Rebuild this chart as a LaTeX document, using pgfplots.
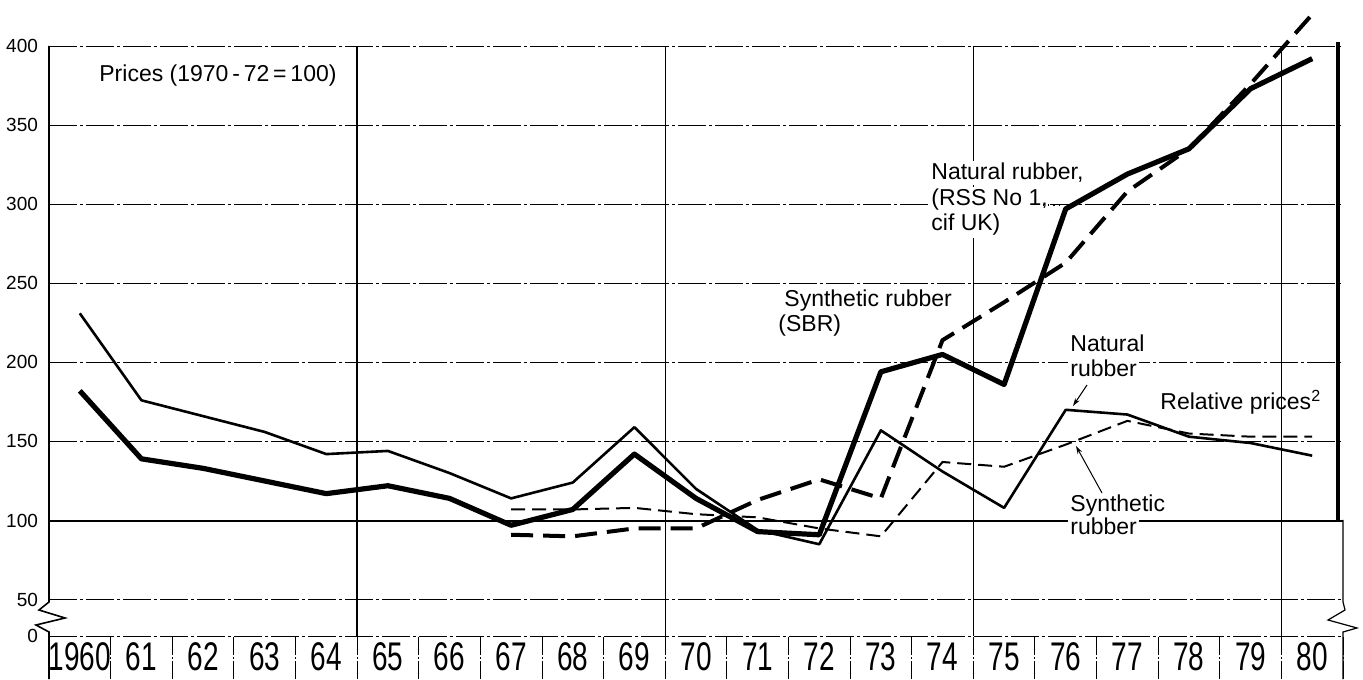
\documentclass[border=0pt]{standalone}
\usepackage{fontspec}
\setmainfont{Liberation Sans}
\usepackage{graphicx}
\usepackage{pgfplots}
\usepackage{pgfplotstable}
\pgfplotsset{compat=1.18}
\usetikzlibrary{arrows.meta}

\pgfplotstableread{
x nr rnr
0 182 231
1 139 176
2 133 166
3 125 156
4 117 142
5 122 144
6 114 130
7 97 114
8 107 124
9 142 159
10 114 120
11 93 94
12 91 85
13 194 157
14 205 131
15 186 108
16 297 170
17 319 167
18 335 153
19 373 149
20 392 141
}\tabA

\pgfplotstableread{
x sbr rsr
7 91 107
8 90 107
9 95 108
10 95 104
11 113 102
12 126 95
13 114 90
14 214 137
15 238 134
16 263 148
17 308 163
18 335 155
19 376 153
20 420 153
}\tabB

\newcommand{\yl}[1]{\scalebox{0.7}[1]{#1}}

\begin{document}
\begin{tikzpicture}
\begin{axis}[
  at={(0,0)}, anchor=south west,
  scale only axis, width=647pt, height=295pt,
  xmin=-0.5, xmax=20.5, ymin=27, ymax=400,
  clip=false,
  axis line style={draw=none},
  xtick={0,...,20},
  xticklabels={\yl{1960},\yl{61},\yl{62},\yl{63},\yl{64},\yl{65},\yl{66},\yl{67},\yl{68},\yl{69},\yl{70},\yl{71},\yl{72},\yl{73},\yl{74},\yl{75},\yl{76},\yl{77},\yl{78},\yl{79},\yl{80}},
  minor xtick={-0.5,0.5,...,20.5},
  ytick={27,50,100,150,200,250,300,350,400},
  yticklabels={0,50,100,150,200,250,300,350,400},
  major tick length=0pt,
  minor tick length=21.5pt,
  tick align=outside,
  xtick pos=left, ytick pos=left,
  minor x tick style={black, line width=0.45pt, dash pattern=on 9pt off 1pt on 1pt off 1pt},
  x tick label style={font=\fontsize{20}{20}\selectfont, anchor=center, yshift=-10.5pt},
  y tick label style={font=\fontsize{9.5}{11}\selectfont, xshift=-2pt},
  /pgf/number format/assume math mode=true,
  ymajorgrids,
  major grid style={black, line width=0.45pt, dash pattern=on 14pt off 1.5pt on 1.5pt off 1.5pt},
  extra x ticks={4.5,9.5,14.5,19.5},
  extra x tick labels={},
  extra x tick style={grid=major, major grid style={black, line width=0.6pt, solid}},
]
\draw[black, line width=1pt] (axis cs:-0.5,100) -- (axis cs:20.5,100);
\addplot[black, line width=2.6pt, line join=round] table[x=x,y=nr]{\tabA};
\addplot[black, line width=1.3pt, line join=round] table[x=x,y=rnr]{\tabA};
\addplot[black, line width=2pt, dash pattern=on 11pt off 5pt] table[x=x,y=sbr]{\tabB};
\addplot[black, line width=1pt, dash pattern=on 7pt off 3.5pt] table[x=x,y=rsr]{\tabB};
\end{axis}
\begin{scope}[x=1pt,y=1pt]
  % left axis with break
  \draw[black, line width=0.8pt] (0,295) -- (0,17) -- (-5,13) -- (8,9) -- (-6.5,5.5) -- (0,2) -- (0,-21.5);
  % right side
  \draw[black, line width=1.6pt] (644.5,297) -- (644.5,58);
  \draw[black, line width=0.6pt] (647,58) -- (647,17) -- (648,13) -- (639.5,8) -- (654,4) -- (647,2) -- (647,-21.5);
  % annotations
  \begin{scope}[every node/.style={anchor=base west, inner sep=1pt, fill=white, font=\fontsize{11.5}{13}\selectfont}]
    \node[fill=none] at (24,277) {Prices (1970\,-\,72\,=\,100)};
    \node at (440,228) {Natural rubber,};
    \node at (440,215) {(RSS No 1,};
    \node at (440,202.5) {cif UK)};
    \node at (366.5,164.5) {Synthetic rubber};
    \node at (363.5,152) {(SBR)};
    \node at (509.5,142) {Natural};
    \node at (509.5,129.5) {rubber};
    \node[fill=none] at (554.5,113) {Relative prices\textsuperscript{2}};
    \node at (509.5,62) {Synthetic};
    \node at (509.5,50.5) {rubber};
  \end{scope}
  \draw[black, line width=0.6pt, dotted] (497,215.5) -- (505,215.5);
  \draw[black, line width=0.5pt, -{Stealth[length=4pt,width=2.5pt]}] (519,125.5) -- (512,115);
  \draw[black, line width=0.5pt, -{Stealth[length=4pt,width=2.5pt]}] (526.5,71.5) -- (513.5,95);
\end{scope}
\pgfresetboundingbox
\path (-24.5pt,-21.5pt) rectangle (657pt,318pt);
\end{tikzpicture}
\end{document}
